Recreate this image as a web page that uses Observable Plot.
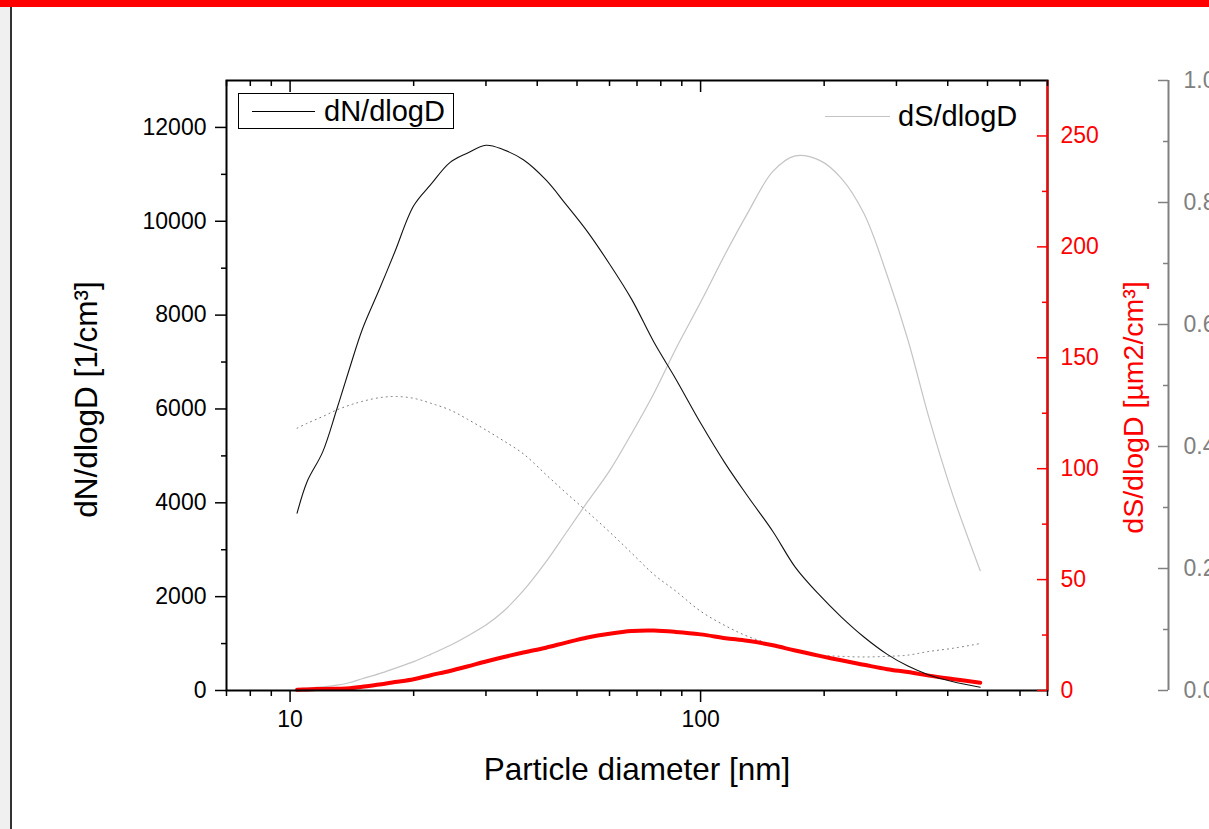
<!DOCTYPE html>
<html><head><meta charset="utf-8">
<script src="https://cdn.jsdelivr.net/npm/d3@7"></script>
<script src="https://cdn.jsdelivr.net/npm/@observablehq/plot@0.6"></script>
<style>
html,body{margin:0;padding:0;background:#fff;}
#wrap{position:relative;width:1209px;height:829px;overflow:hidden;font-family:"Liberation Sans",Arial,sans-serif;background:#fff;}
#topbar{position:absolute;left:0;top:0;width:1209px;height:7px;background:#ff0000;}
#strip{position:absolute;left:0;top:7px;width:10px;height:822px;background:#f0f0f0;}
#vline{position:absolute;left:10px;top:7px;width:2px;height:822px;background:#333;}
#chart{position:absolute;left:0;top:0;}
.leg{position:absolute;font-family:"Liberation Sans",Arial,sans-serif;font-size:29px;line-height:1;color:#000;white-space:nowrap;}
</style></head><body>
<div id="wrap">
  <div id="topbar"></div>
  <div id="strip"></div>
  <div id="vline"></div>
  <div id="chart"></div>
  <div class="leg" style="left:238px;top:93px;width:214px;height:34px;border:1px solid #000;"></div>
  <div style="position:absolute;left:252px;top:111px;width:63px;height:1px;background:#000;"></div>
  <div class="leg" style="left:324px;top:97px;">dN/dlogD</div>
  <div style="position:absolute;left:825px;top:116px;width:65px;height:1px;background:#c4c4c4;"></div>
  <div class="leg" style="left:898px;top:102px;">dS/dlogD</div>
</div>
<script>
// ---- data ----
const diameter = [10.4, 11, 12, 13, 14, 15, 16.5, 18, 20, 22, 24.5, 27, 30, 33, 37, 42, 47, 53, 60, 68, 77, 87, 100, 115, 130, 150, 170, 195, 220, 250, 285, 320, 360, 410, 480];
const dNdlogD = [3780, 4450, 5080, 6000, 6900, 7700, 8550, 9350, 10330, 10780, 11250, 11450, 11620, 11530, 11310, 10880, 10360, 9780, 9090, 8330, 7420, 6640, 5700, 4830, 4150, 3390, 2630, 2030, 1570, 1140, 770, 520, 330, 190, 70];
const dSdlogD = [0.7, 1.1, 1.6, 2.4, 3.6, 5.3, 7.6, 10.0, 13.0, 16.3, 20.3, 24.5, 29.5, 35.5, 45, 58, 71, 85, 99, 116, 134, 154, 175, 197, 215, 234, 241, 239, 231, 215, 187, 158, 123, 89, 54];
const redCurve = [0.3, 0.5, 0.7, 0.8, 1.0, 1.7, 2.7, 3.8, 5.1, 6.9, 8.8, 10.8, 13.1, 15.0, 17.1, 19.3, 21.6, 23.9, 25.6, 26.8, 27.0, 26.4, 25.3, 23.6, 22.4, 20.4, 18.0, 15.6, 13.6, 11.6, 9.6, 8.3, 6.7, 5.2, 3.5];
const dottedCurve = [0.430, 0.438, 0.449, 0.460, 0.468, 0.474, 0.480, 0.482, 0.479, 0.471, 0.460, 0.445, 0.427, 0.410, 0.388, 0.354, 0.324, 0.293, 0.260, 0.225, 0.190, 0.163, 0.130, 0.106, 0.089, 0.075, 0.064, 0.058, 0.056, 0.055, 0.056, 0.058, 0.064, 0.069, 0.077];

// ---- ticks ----
const xMajorTicks = [10, 100];
const xMinorTicks = [7, 8, 9, 20, 30, 40, 50, 60, 70, 80, 90, 200, 300, 400, 500, 600, 700];
const leftMajorTicks = [0, 2000, 4000, 6000, 8000, 10000, 12000];
const leftMinorTicks = [1000, 3000, 5000, 7000, 9000, 11000];
const redMajorTicks = [0, 50, 100, 150, 200, 250];
const redMinorTicks = [25, 75, 125, 175, 225];
const grayMajorTicks = [0, 0.2, 0.4, 0.6, 0.8, 1.0];
const grayMinorTicks = [0.1, 0.3, 0.5, 0.7, 0.9];

const xDomain = [7, 700];
const leftMax = 13000, redMax = 275, grayMax = 1;

const fromRed = d3.scaleLinear([0, redMax], [0, leftMax]);
const fromGray = d3.scaleLinear([0, grayMax], [0, leftMax]);

const rows = diameter.map((d, i) => ({
  d, n: dNdlogD[i], s: fromRed(dSdlogD[i]), r: fromRed(redCurve[i]), g: fromGray(dottedCurve[i])
}));

const FONT = '"Liberation Sans", Arial, sans-serif';
const blank = () => "";
const grayC = "#808080";
const TF = 23;

const chart = Plot.plot({
  width: 1209, height: 829,
  marginTop: 80, marginBottom: 139, marginLeft: 226, marginRight: 162,
  style: {background: "transparent", color: "black", fontFamily: FONT, overflow: "visible"},
  x: {type: "log", domain: xDomain},
  y: {domain: [0, leftMax]},
  marks: [
    // curves
    Plot.line(rows, {x: "d", y: "s", stroke: "#c4c4c4", strokeWidth: 1.2, curve: "catmull-rom"}),
    Plot.line(rows, {x: "d", y: "g", stroke: "#777", strokeWidth: 1, strokeDasharray: "1,4", curve: "catmull-rom"}),
    Plot.line(rows, {x: "d", y: "r", stroke: "#ff0000", strokeWidth: 4, curve: "catmull-rom"}),
    Plot.line(rows, {x: "d", y: "n", stroke: "#111", strokeWidth: 1.1, curve: "catmull-rom"}),
    // frame and red/gray axis lines
    Plot.frame({stroke: "black", strokeWidth: 2}),
    Plot.ruleX([xDomain[1]], {stroke: "#ff0000", strokeWidth: 2}),
    Plot.ruleX([xDomain[1]], {dx: 121, stroke: grayC, strokeWidth: 2}),
    // bottom axis
    Plot.axisX(xMajorTicks, {anchor: "bottom", tickSize: 12, tickPadding: 8, fontSize: TF, strokeWidth: 1.5, tickFormat: d => String(d), label: null}),
    Plot.axisX(xMinorTicks, {anchor: "bottom", tickSize: 6, strokeWidth: 1.5, tickFormat: blank, label: null}),
    // top axis (inward ticks)
    Plot.axisX(xMajorTicks, {anchor: "bottom", frameAnchor: "top", tickSize: 12, strokeWidth: 1.5, tickFormat: blank, label: null}),
    Plot.axisX(xMinorTicks, {anchor: "bottom", frameAnchor: "top", tickSize: 6, strokeWidth: 1.5, tickFormat: blank, label: null}),
    // left axis
    Plot.axisY(leftMajorTicks, {anchor: "left", tickSize: 11, tickPadding: 9, fontSize: TF, strokeWidth: 1.5, tickFormat: d3.format("d"), label: null}),
    Plot.axisY(leftMinorTicks, {anchor: "left", tickSize: 5, strokeWidth: 1.5, tickFormat: blank, label: null}),
    // red right axis (ticks inward, labels outside)
    Plot.axisY(redMajorTicks.map(fromRed), {anchor: "left", frameAnchor: "right", tickSize: 10, stroke: "#ff0000", strokeWidth: 1.5, tickFormat: blank, label: null}),
    Plot.axisY(redMinorTicks.map(fromRed), {anchor: "left", frameAnchor: "right", tickSize: 5, stroke: "#ff0000", strokeWidth: 1.5, tickFormat: blank, label: null}),
    Plot.axisY(redMajorTicks.map(fromRed), {anchor: "right", tickSize: 0, tickPadding: 13, fontSize: TF, fill: "#ff0000", tickFormat: v => String(Math.round(fromRed.invert(v))), label: null}),
    // gray far-right axis
    Plot.axisY(grayMajorTicks.map(fromGray), {anchor: "left", frameAnchor: "right", dx: 121, tickSize: 10, stroke: grayC, strokeWidth: 1.5, tickFormat: blank, label: null}),
    Plot.axisY(grayMinorTicks.map(fromGray), {anchor: "left", frameAnchor: "right", dx: 121, tickSize: 5, stroke: grayC, strokeWidth: 1.5, tickFormat: blank, label: null}),
    Plot.axisY(grayMajorTicks.map(fromGray), {anchor: "right", dx: 121, tickSize: 0, tickPadding: 15, fontSize: TF, fill: grayC, tickFormat: v => d3.format(".1f")(fromGray.invert(v)), label: null}),
    // axis titles
    Plot.text(["dN/dlogD [1/cm³]"], {frameAnchor: "left", textAnchor: "middle", lineAnchor: "middle", dx: -140, dy: 14, rotate: -90, fontSize: 31.5, fill: "black"}),
    Plot.text(["dS/dlogD [µm2/cm³]"], {frameAnchor: "right", textAnchor: "middle", lineAnchor: "middle", dx: 86, dy: 22, rotate: -90, fontSize: 28.5, fill: "#ff0000"}),
    Plot.text(["Particle diameter [nm]"], {frameAnchor: "bottom", textAnchor: "middle", lineAnchor: "middle", dy: 79, fontSize: 31.5, fill: "black"})
  ]
});
document.getElementById("chart").appendChild(chart);
</script>
</body></html>
